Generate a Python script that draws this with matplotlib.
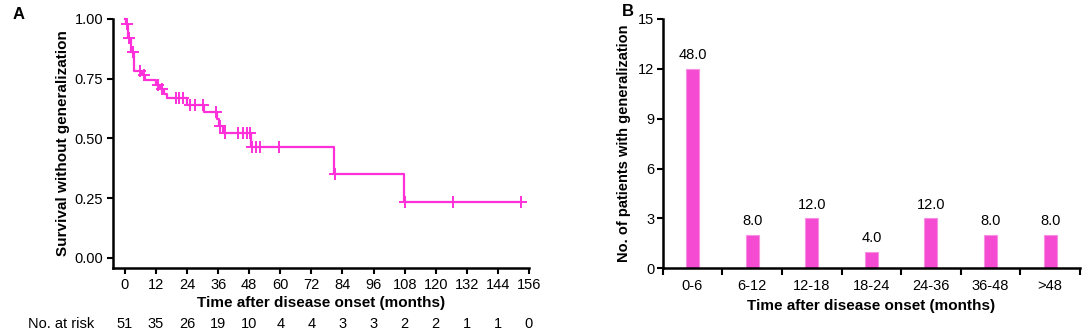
import numpy as np
import matplotlib
matplotlib.use("Agg")
import matplotlib.pyplot as plt
from matplotlib.transforms import blended_transform_factory

plt.rcParams['font.family'] = ['Liberation Sans', 'DejaVu Sans']

# Panel A: Kaplan-Meier (time of each drop and survival right after it)
event_t = [0.4, 1.3, 2.5, 3.6, 6.8, 7.8, 12.0, 13.6, 15.0, 16.2, 24.0, 30.6,
           35.6, 36.4, 38.0, 48.8, 80.8, 107.6]
event_s = [0.980, 0.922, 0.863, 0.784, 0.765, 0.745, 0.725, 0.706, 0.686,
           0.667, 0.640, 0.612, 0.582, 0.552, 0.521, 0.465, 0.349, 0.233]
censor_t = [0.8, 1.6, 3.0, 6.0, 7.4, 12.6, 14.4, 19.6, 21.0, 22.6, 25.0, 27.0,
            30.2, 35.3, 36.8, 38.8, 43.8, 45.6, 47.0, 48.3, 49.2, 50.6, 52.2,
            59.6, 81.0, 108.0, 126.5, 153.0]
risk_times = [0, 12, 24, 36, 48, 60, 72, 84, 96, 108, 120, 132, 144, 156]
risk_counts = [51, 35, 26, 19, 10, 4, 4, 3, 3, 2, 2, 1, 1, 0]

# Panel B: patients with generalization per interval
intervals = ['0-6', '6-12', '12-18', '18-24', '24-36', '36-48', '>48']
patients = [12, 2, 3, 1, 3, 2, 2]
percent = [48.0, 8.0, 12.0, 4.0, 12.0, 8.0, 8.0]

line_col = '#FF30DA'
bar_col = '#F54AD2'

fig = plt.figure(figsize=(10.84, 3.35), dpi=100)

# ---- A ----
ax = fig.add_axes([0.1042, 0.200, 0.3838, 0.7433])
st = np.array([0] + event_t + [censor_t[-1]])
ss = np.array([1.0] + event_s + [event_s[-1]])
ax.step(st, ss, where='post', color=line_col, lw=1.6, clip_on=False)

def surv_at(t):
    s = 1.0
    for et, es in zip(event_t, event_s):
        if et <= t:
            s = es
    return s

cs = [surv_at(t) for t in censor_t]
ax.plot(censor_t, cs, ls='none', marker='+', ms=8, mew=1.4, color=line_col, clip_on=False)

ax.set_xlim(-4.6, 156)
ax.set_ylim(-0.043, 1.0)
ax.set_xticks(risk_times)
ax.set_yticks([0, 0.25, 0.5, 0.75, 1.0])
ax.set_yticklabels(['0.00', '0.25', '0.50', '0.75', '1.00'])
for s in ['top', 'right']:
    ax.spines[s].set_visible(False)
for s in ['left', 'bottom']:
    ax.spines[s].set_linewidth(1.8)
ax.tick_params(width=1.5, length=4, labelsize=10.5, pad=3)
ax.set_xlabel('Time after disease onset (months)', fontsize=11, fontweight='bold', labelpad=3)
ax.set_ylabel('Survival without generalization', fontsize=11, fontweight='bold', labelpad=3)

tr = blended_transform_factory(ax.transData, fig.transFigure)
for t, n in zip(risk_times, risk_counts):
    ax.text(t, 0.033, str(n), transform=tr, ha='center', va='center', fontsize=10.5)
fig.text(0.026, 0.033, 'No. at risk', ha='left', va='center', fontsize=10.5)
fig.text(0.012, 0.958, 'A', fontsize=12, fontweight='bold', va='center')

# ---- B ----
bx = fig.add_axes([0.6113, 0.199, 0.3850, 0.7443])
x = np.arange(len(intervals))
bx.bar(x, patients, width=0.22, color=bar_col, edgecolor='#F78FE3', linewidth=0.8)
for xi, v, p in zip(x, patients, percent):
    bx.annotate(f'{p:.1f}', (xi, v), xytext=(0, 5), textcoords='offset points',
                ha='center', va='bottom', fontsize=10.5)
bx.set_xlim(-0.5, 6.5)
bx.set_ylim(0, 15)
bx.set_yticks([0, 3, 6, 9, 12, 15])
bx.set_xticks(x)
bx.set_xticklabels(intervals)
bx.set_xticks(np.arange(-0.5, 7, 1), minor=True)
bx.tick_params(axis='x', which='major', length=0, labelsize=10.5, pad=8)
bx.tick_params(axis='x', which='minor', length=5, width=1.5)
bx.tick_params(axis='y', length=4, width=1.5, labelsize=10.5, pad=2)
for s in ['top', 'right']:
    bx.spines[s].set_visible(False)
for s in ['left', 'bottom']:
    bx.spines[s].set_linewidth(1.8)
bx.set_xlabel('Time after disease onset (months)', fontsize=11, fontweight='bold', labelpad=4)
bx.set_ylabel('No. of patients with generalization', fontsize=10.5, fontweight='bold', labelpad=5)
fig.text(0.574, 0.966, 'B', fontsize=12, fontweight='bold', va='center')

fig.savefig('out.png', dpi=100)
